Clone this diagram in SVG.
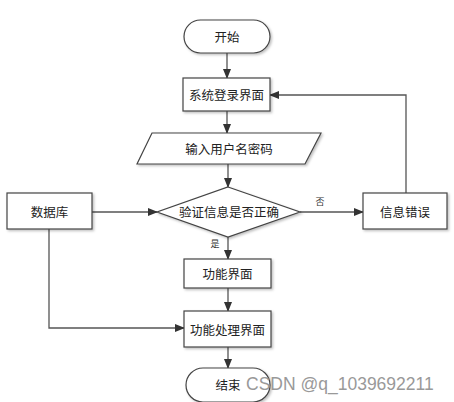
<svg xmlns="http://www.w3.org/2000/svg" width="454" height="402" viewBox="0 0 454 402">
<defs>
<marker id="arr" markerWidth="10" markerHeight="8" refX="9" refY="4" orient="auto" markerUnits="userSpaceOnUse">
<path d="M0,0 L10,4 L0,8 Z" fill="#333"/>
</marker>
<filter id="sh" x="-10%" y="-10%" width="130%" height="140%">
<feDropShadow dx="1.5" dy="1.5" stdDeviation="1" flood-color="#000" flood-opacity="0.25"/>
</filter>
</defs>
<style>
.s{fill:#fff;stroke:#444;stroke-width:1.2;filter:url(#sh)}
.t{font-family:"Noto Sans CJK SC",sans-serif;font-size:12.5px;fill:#222;text-anchor:middle;dominant-baseline:central}
.sm{font-family:"Noto Sans CJK SC",sans-serif;font-size:9px;fill:#333;text-anchor:middle;dominant-baseline:central}
.c{fill:none;stroke:#555;stroke-width:1.3}
</style>
<rect width="454" height="402" fill="#fff"/>
<g id="connectors">
<path class="c" d="M227,53 V78" marker-end="url(#arr)"/>
<path class="c" d="M227,111 V133" marker-end="url(#arr)"/>
<path class="c" d="M228,163 V187" marker-end="url(#arr)"/>
<path class="c" d="M92,212 H157" marker-end="url(#arr)"/>
<path class="c" d="M300,212 H363" marker-end="url(#arr)"/>
<path class="c" d="M406,193 V95 H270" marker-end="url(#arr)"/>
<path class="c" d="M228,237 V259" marker-end="url(#arr)"/>
<path class="c" d="M228,288 V311" marker-end="url(#arr)"/>
<path class="c" d="M49,229 V328 H184" marker-end="url(#arr)"/>
<path class="c" d="M228,347 V368" marker-end="url(#arr)"/>
<text class="sm" x="320" y="201">否</text>
<text class="sm" x="215" y="243">是</text>
</g>
<g id="start">
<rect class="s" x="184" y="20" width="86" height="33" rx="16.5"/>
<text class="t" x="227" y="36.5">开始</text>
</g>
<g id="login">
<rect class="s" x="183" y="78" width="87" height="33"/>
<text class="t" x="226.5" y="94.5">系统登录界面</text>
</g>
<g id="input">
<polygon class="s" points="152,133 321,133 305,164 137,164"/>
<text class="t" x="229" y="148.5">输入用户名密码</text>
</g>
<g id="verify">
<polygon class="s" points="228,187 300,212 228,237 157,212"/>
<text class="t" x="229" y="211">验证信息是否正确</text>
</g>
<g id="db">
<rect class="s" x="7" y="193" width="85" height="36"/>
<text class="t" x="49.5" y="211">数据库</text>
</g>
<g id="error">
<rect class="s" x="363" y="193" width="84" height="36"/>
<text class="t" x="405" y="211">信息错误</text>
</g>
<g id="func">
<rect class="s" x="184" y="259" width="87" height="29"/>
<text class="t" x="227.5" y="273.5">功能界面</text>
</g>
<g id="proc">
<rect class="s" x="184" y="311" width="87" height="36"/>
<text class="t" x="227.5" y="329">功能处理界面</text>
</g>
<g id="end">
<rect class="s" x="186" y="368" width="84" height="34" rx="17"/>
<text class="t" x="228" y="384">结束</text>
</g>
<text x="246" y="384" font-family="Liberation Sans, Arial, sans-serif" font-size="17.5" fill="#999" dominant-baseline="central">CSDN @q_1039692211</text>
</svg>
